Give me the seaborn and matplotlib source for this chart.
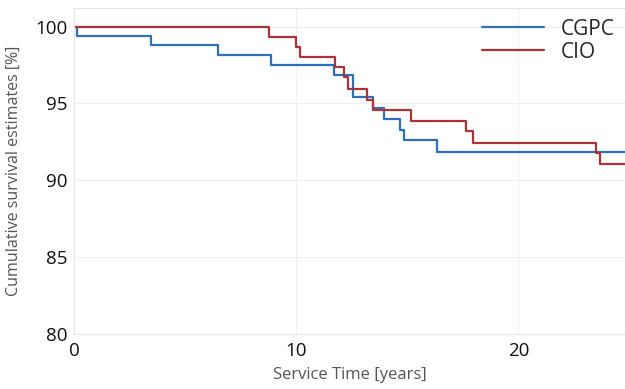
import pandas as pd
import matplotlib
matplotlib.use('Agg')
import matplotlib.pyplot as plt
import seaborn as sns

# step points (years, survival %)
cgpc_time = [0, 0.15, 3.47, 6.46, 8.87, 11.68, 12.58, 13.47, 13.96, 14.67, 14.86, 16.33, 25]
cgpc_surv = [100, 99.4, 98.78, 98.16, 97.5, 96.83, 95.44, 94.72, 94.0, 93.3, 92.6, 91.84, 91.84]

cio_time = [0, 8.78, 10.0, 10.15, 11.76, 12.17, 12.34, 13.17, 13.47, 15.18, 17.66, 17.96, 23.5, 23.66, 25]
cio_surv = [100, 99.35, 98.7, 98.0, 97.37, 96.7, 95.96, 95.24, 94.6, 93.85, 93.18, 92.42, 91.75, 91.03, 91.03]

groups = ['CGPC', 'CIO']
colors = ['#2e6fba', '#ab3338']

df = pd.concat([
    pd.DataFrame({'time': cgpc_time, 'surv': cgpc_surv, 'group': 'CGPC'}),
    pd.DataFrame({'time': cio_time, 'surv': cio_surv, 'group': 'CIO'}),
])

sns.set_theme(style='whitegrid')
plt.rcParams['font.family'] = ['Open Sans', 'DejaVu Sans']

fig = plt.figure(figsize=(6.25, 3.89), dpi=100)
ax = fig.add_axes([0.1184, 0.1414, 0.8816, 0.8375])

sns.lineplot(data=df, x='time', y='surv', hue='group', hue_order=groups,
             palette=colors, estimator=None, drawstyle='steps-post',
             linewidth=1.6, ax=ax)

ax.set_xlim(0, 24.8)
ax.set_ylim(80, 101.2)
ax.set_xticks([0, 10, 20])
ax.set_yticks([80, 85, 90, 95, 100])
ax.tick_params(axis='both', labelsize=13.5, colors='#e0e0e0', labelcolor='#111111',
               length=3, width=0.8)
ax.tick_params(axis='x', pad=3)
ax.tick_params(axis='y', pad=2)

ax.grid(True, color='#f0f0f0', linewidth=0.8)
for s in ax.spines.values():
    s.set_color('#e6e6e6')
    s.set_linewidth(0.8)

ax.set_xlabel('Service Time [years]', fontsize=12, color='#555555', labelpad=5)
ax.set_ylabel('Cumulative survival estimates [%]', fontsize=11.5, color='#555555', labelpad=9)

leg = ax.legend(loc='upper right', frameon=False, fontsize=15, handlelength=3,
                borderaxespad=0.1, labelspacing=0.1)
for line in leg.get_lines():
    line.set_linewidth(1.6)

fig.savefig('out.png', dpi=100)
